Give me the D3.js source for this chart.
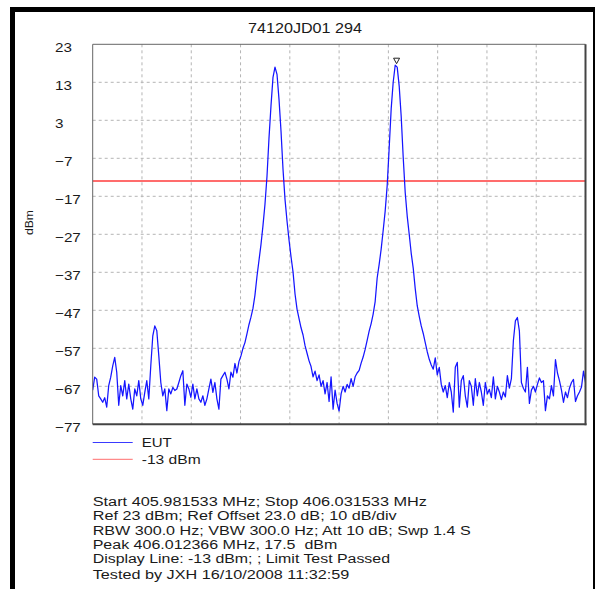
<!DOCTYPE html>
<html><head><meta charset="utf-8">
<script src="https://cdn.jsdelivr.net/npm/d3@7"></script>
<style>
html,body{margin:0;padding:0;background:#fff;}
svg{display:block;}
text{font-family:"Liberation Sans",Arial,sans-serif;fill:#1a1a1a;}
text.info{white-space:pre;}
</style>
</head><body>
<svg id="c" width="595" height="589"></svg>
<script>
// ---------------- data ----------------
const title = "74120JD01 294";
const yLabel = "dBm";
const startMHz = 405.981533, stopMHz = 406.031533;
const refLevel = 23, bottomLevel = -77;
const yTicks = [23, 13, 3, -7, -17, -27, -37, -47, -57, -67, -77];
const xGrid = [405.986533, 405.991533, 405.996533, 406.001533, 406.006533,
               406.011533, 406.016533, 406.021533, 406.026533];
const limitLevel = -13;
const peakMHz = 406.012366, peakLevel = 17.5;
const legendNames = ["EUT", "-13 dBm"];
const infoLines = [
  "Start 405.981533 MHz; Stop 406.031533 MHz",
  "Ref 23 dBm; Ref Offset 23.0 dB; 10 dB/div",
  "RBW 300.0 Hz; VBW 300.0 Hz; Att 10 dB; Swp 1.4 S",
  "Peak 406.012366 MHz, 17.5  dBm",
  "Display Line: -13 dBm; ; Limit Test Passed",
  "Tested by JXH 16/10/2008 11:32:59"
];
// EUT trace levels (dBm), equally spaced sweep points from start to stop
const levels = [
  -68, -64.6, -65.1, -69.5, -70.3, -71.2, -70, -72.5, -66.8, -64.6,
  -61.6, -59.4, -63.3, -72, -66.8, -69.5, -65.5, -70.3, -66.4, -70.3,
  -73, -67.7, -69.5, -65.5, -70.3, -72, -68.6, -65.5, -70.3, -61.6,
  -53.7, -51.1, -52.4, -59, -66, -69.5, -67.7, -73.4, -67.7, -69,
  -67.3, -68.1, -67.7, -66, -64.2, -62.9, -72, -66.4, -67.7, -69.9,
  -66.4, -70.3, -67.7, -70.3, -71.2, -69.5, -72, -70.3, -67.7, -65.1,
  -68.6, -66, -70.3, -73, -65.1, -64.2, -63.3, -65.1, -67.7, -63.3,
  -64.6, -61, -63.5, -60.5, -59, -57, -55.5, -53.2, -50.8, -48.8,
  -46.5, -43, -38.1, -33.9, -29.7, -24.7, -19.1, -11.8, -1.7, 6.8,
  14.3, 17.0, 15.1, 8.5, 0.2, -9.9, -17.8, -23.5, -28.5, -32.9,
  -36.9, -42.7, -46.7, -49.2, -51.6, -53.5, -56.3, -58.3, -60.3, -61.8,
  -64.5, -63, -65.5, -64, -67, -65.5, -69, -66, -71, -64.5,
  -73, -68, -71.5, -73.5, -69, -67, -68.5, -66.5, -67.5, -65,
  -67, -64.5, -63.5, -62.8, -60.9, -59.3, -57.3, -54.9, -52.5, -50.5,
  -48, -44.7, -38.5, -34.9, -30.9, -26, -20.9, -14.2, -4.3, 6.0,
  13.0, 17.5, 17.0, 12.0, 4.0, -6.7, -16, -22.2, -27, -32,
  -35.9, -41.3, -45.8, -48.6, -51.1, -53.1, -55.5, -57.9, -59.9, -61.4,
  -62.5, -59.5, -64, -62, -66.5, -68.5, -66.8, -70, -66, -68.5,
  -73.8, -62, -60.7, -72.5, -65.5, -64.2, -69.5, -72.5, -65.5, -67,
  -72, -65, -69.5, -66, -68.5, -72, -66, -69, -67.8, -70,
  -64.5, -70.3, -67, -68.5, -70.5, -68.5, -69.8, -64.2, -67.5, -65,
  -55, -49.8, -48.9, -52.5, -66, -67.5, -68.5, -62, -71.5, -68,
  -67, -68.5, -66.5, -64.8, -66, -65.5, -73.4, -69.5, -70.3, -66.8,
  -69.5, -60, -63.5, -65.5, -68, -71.2, -68.5, -70, -67.5, -66,
  -65.2, -71, -69.5, -68.5, -67.2, -63, -66
];

// ---------------- layout ----------------
const plot = {l: 92.7, t: 44.3, r: 585.5, b: 424.3};
const infoWidths = [334.3, 304, 378, 244.6, 297.3, 256.6];
const infoBaselines = [505.8, 520.4, 535.0, 548.6, 563.2, 578.6];

const svg = d3.select("#c");

// outer frame
svg.append("rect").attr("x", 10).attr("y", 7).attr("width", 5).attr("height", 582).attr("fill", "#000");
svg.append("rect").attr("x", 10).attr("y", 7).attr("width", 585).attr("height", 5).attr("fill", "#000");
svg.append("rect").attr("x", 593).attr("y", 7).attr("width", 2).attr("height", 582).attr("fill", "#000");

const x = d3.scaleLinear().domain([startMHz, stopMHz]).range([plot.l, plot.r]);
const y = d3.scaleLinear().domain([bottomLevel, refLevel]).range([plot.b, plot.t]);
const step = (stopMHz - startMHz) / (levels.length - 1);

function stretch(sel, f) {
  sel.each(function() {
    const w = this.getComputedTextLength();
    d3.select(this).attr("textLength", w * f).attr("lengthAdjust", "spacingAndGlyphs");
  });
}

// title
svg.append("text").attr("x", 305).attr("y", 32.7).attr("text-anchor", "middle")
  .attr("font-size", 14).attr("textLength", 114).attr("lengthAdjust", "spacingAndGlyphs").text(title);

// grid
const g = svg.append("g");
g.selectAll("line.hg").data(yTicks.slice(1, -1)).join("line")
  .attr("x1", plot.l).attr("x2", plot.r).attr("y1", d => y(d)).attr("y2", d => y(d))
  .attr("stroke", "#b4b4b4").attr("stroke-width", 1).attr("stroke-dasharray", "3,3");
g.selectAll("line.vg").data(xGrid).join("line")
  .attr("x1", d => x(d)).attr("x2", d => x(d)).attr("y1", plot.t).attr("y2", plot.b)
  .attr("stroke", "#b4b4b4").attr("stroke-width", 1).attr("stroke-dasharray", "3,3");

// y axis labels
const yAxis = d3.axisLeft(y).tickValues(yTicks).tickSize(0).tickFormat(d3.format("d"));
const ya = svg.append("g").attr("transform", `translate(${plot.l},0)`).call(yAxis);
ya.select(".domain").remove();
ya.selectAll("text").attr("x", 55 - plot.l).attr("y", 3.5).attr("text-anchor", "start")
  .attr("font-size", 13).attr("font-family", "Liberation Sans, Arial, sans-serif").attr("fill", "#1a1a1a");
stretch(ya.selectAll("text"), 1.17);

// y label
svg.append("text").attr("transform", "translate(33.3,222.5) rotate(-90)").attr("text-anchor", "middle")
  .attr("font-size", 10).attr("textLength", 25).attr("lengthAdjust", "spacingAndGlyphs").text(yLabel);

// clip
svg.append("clipPath").attr("id", "pc").append("rect")
  .attr("x", plot.l).attr("y", plot.t).attr("width", plot.r - plot.l).attr("height", plot.b - plot.t);

// limit line
svg.append("line").attr("x1", plot.l).attr("x2", plot.r).attr("y1", y(limitLevel)).attr("y2", y(limitLevel))
  .attr("stroke", "#ff3b3b").attr("stroke-width", 1.5);

// trace
const line = d3.line().x((d, i) => x(startMHz + i * step)).y(d => y(d));
svg.append("path").datum(levels).attr("d", line).attr("clip-path", "url(#pc)")
  .attr("fill", "none").attr("stroke", "#1515ff").attr("stroke-width", 1.25).attr("stroke-linejoin", "round");

// peak marker
const px = x(peakMHz), py = y(peakLevel);
svg.append("path").attr("d", `M${px - 3},${py - 7}L${px + 3},${py - 7}L${px},${py - 1.5}Z`)
  .attr("fill", "#fff").attr("stroke", "#222").attr("stroke-width", 1);

// plot frame
svg.append("line").attr("x1", plot.l).attr("x2", plot.r).attr("y1", plot.t).attr("y2", plot.t).attr("stroke", "#666").attr("stroke-width", 1);
svg.append("line").attr("x1", plot.l).attr("x2", plot.l).attr("y1", plot.t).attr("y2", plot.b).attr("stroke", "#666").attr("stroke-width", 1);
svg.append("line").attr("x1", plot.r).attr("x2", plot.r).attr("y1", plot.t).attr("y2", plot.b + 1).attr("stroke", "#444").attr("stroke-width", 2);
svg.append("line").attr("x1", plot.l).attr("x2", plot.r + 1).attr("y1", plot.b).attr("y2", plot.b).attr("stroke", "#444").attr("stroke-width", 2);

// legend
const legColors = ["#3a3aff", "#ff8a8a"];
const legY = [442.5, 459.3];
const legW = [30, 59];
legendNames.forEach((n, k) => {
  svg.append("line").attr("x1", plot.l).attr("x2", 132.7).attr("y1", legY[k]).attr("y2", legY[k])
    .attr("stroke", legColors[k]).attr("stroke-width", 1.2);
  svg.append("text").attr("x", 141.7).attr("y", legY[k] + 4.6).attr("font-size", 13)
    .attr("textLength", legW[k]).attr("lengthAdjust", "spacingAndGlyphs").text(n);
});

// info lines
svg.selectAll("text.info").data(infoLines).join("text").attr("class", "info")
  .attr("x", plot.l).attr("y", (d, i) => infoBaselines[i]).attr("font-size", 12.5)
  .attr("textLength", (d, i) => infoWidths[i]).attr("lengthAdjust", "spacingAndGlyphs")
  .text(d => d);
</script>
</body></html>
